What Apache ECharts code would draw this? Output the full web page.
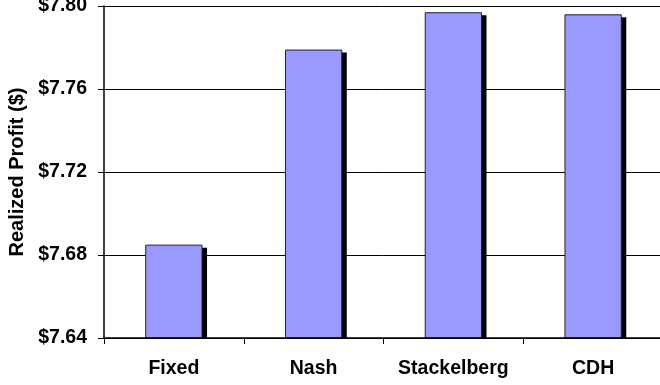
<!DOCTYPE html>
<html>
<head>
<meta charset="utf-8">
<script src="https://cdn.jsdelivr.net/npm/echarts@6/dist/echarts.min.js"></script>
<style>
  html, body { margin: 0; padding: 0; background: #ffffff; }
  #chart { width: 660px; height: 385px; }
</style>
</head>
<body>
<div id="chart"></div>
<script>
// Strategy categories along the x axis
var categories = ['Fixed', 'Nash', 'Stackelberg', 'CDH'];
// Realized profit per strategy, in dollars
var profit = [7.685, 7.779, 7.797, 7.796];
// Value axis range and step
var yMin = 7.64;
var yMax = 7.80;
var yStep = 0.04;

var font = 'Arial, "Liberation Sans", Helvetica, sans-serif';
var barFill = '#9999ff';
var barRatio = 0.41;      // bar width as share of the category band
var shadowDx = 4.5;       // drop shadow offset, px
var shadowDy = 3;

var chart = echarts.init(document.getElementById('chart'), null, { renderer: 'canvas' });
chart.setOption({
  animation: false,
  backgroundColor: '#ffffff',
  grid: {
    left: 104, top: 6, width: 559, bottom: 47,
    containLabel: false, outerBoundsMode: 'none'
  },
  xAxis: {
    type: 'category',
    data: categories,
    boundaryGap: true,
    z: 5,
    axisLine: { show: true, lineStyle: { color: '#000', width: 1.5 } },
    axisTick: { show: true, length: 6, lineStyle: { color: '#000', width: 1 } },
    axisLabel: {
      interval: 0, hideOverlap: false,
      color: '#000', fontFamily: font, fontWeight: 'bold', fontSize: 19.5, margin: 21
    },
    splitLine: { show: false }
  },
  yAxis: {
    type: 'value',
    min: yMin,
    max: yMax,
    interval: yStep,
    name: 'Realized Profit ($)',
    nameLocation: 'middle',
    nameGap: 77,
    nameTextStyle: { color: '#000', fontFamily: font, fontWeight: 'bold', fontSize: 20 },
    axisLine: { show: true, lineStyle: { color: '#000', width: 1.5 } },
    axisTick: { show: true, length: 6, lineStyle: { color: '#000', width: 1 } },
    axisLabel: {
      color: '#000', fontFamily: font, fontWeight: 'bold', fontSize: 19.5, margin: 17,
      formatter: function (v) { return '$' + v.toFixed(2); }
    },
    splitLine: { show: true, lineStyle: { color: '#000', width: 1 } }
  },
  series: [
    {
      // hard drop shadow behind each bar, stopping at the baseline
      type: 'custom',
      z: 1,
      silent: true,
      data: profit.map(function (v, i) { return [i, v]; }),
      renderItem: function (params, api) {
        var top = api.coord([api.value(0), api.value(1)]);
        var base = api.coord([api.value(0), yMin]);
        var w = api.size([1, 0])[0] * barRatio;
        return {
          type: 'rect',
          shape: {
            x: top[0] - w / 2 + shadowDx,
            y: top[1] + shadowDy,
            width: w,
            height: base[1] - top[1] - shadowDy
          },
          style: { fill: '#000' }
        };
      }
    },
    {
      type: 'bar',
      data: profit,
      barWidth: (barRatio * 100) + '%',
      z: 3,
      itemStyle: {
        color: barFill,
        borderColor: '#222',
        borderWidth: 1
      }
    }
  ]
});
</script>
</body>
</html>
